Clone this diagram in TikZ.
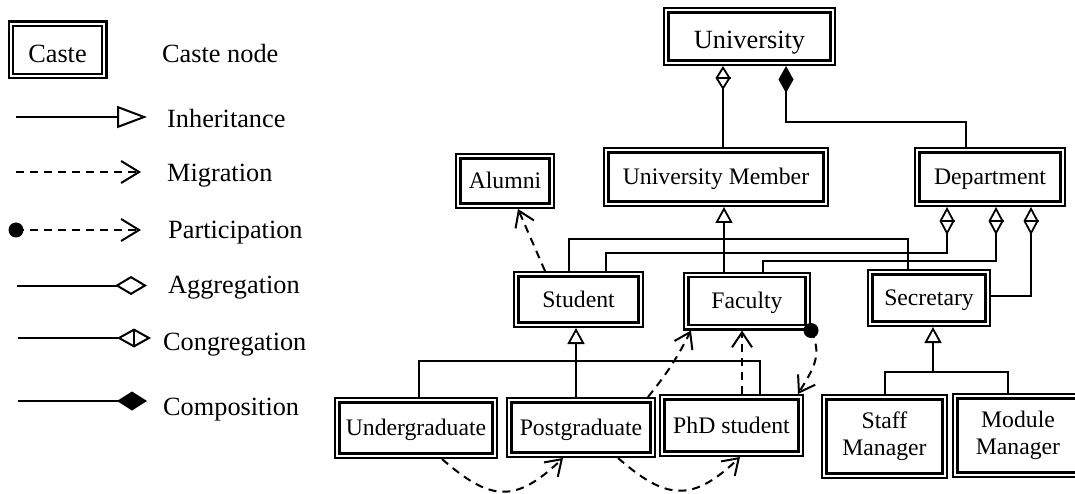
\documentclass[tikz,border=0pt]{standalone}
\usepackage{fontspec}
\setmainfont{Liberation Serif}
\usetikzlibrary{arrows.meta}
\begin{document}
\begin{tikzpicture}[x=1pt,y=-1pt,
  caste/.style={draw, line width=2.4pt, double, double distance=2pt, inner sep=0pt, outer sep=3.4pt,
    font=\fontsize{23.7}{27}\selectfont, align=center},
  capc/.style={text height=15.7pt, text depth=0pt},
  bigc/.style={font=\fontsize{26.3}{30}\selectfont, text height=24.4pt, text depth=0pt},
  legtext/.style={anchor=base west, inner sep=0pt, font=\fontsize{26.3}{30}\selectfont},
  conn/.style={line width=2pt},
  thickconn/.style={line width=2.8pt},
  cbar/.style={line width=1.6pt},
  dashln/.style={line width=2pt, dash pattern=on 8pt off 6pt},
  mig/.style={dashln, -{Straight Barb[length=15pt,width=20pt,line width=2pt]}},
  legmig/.style={dashln, -{Straight Barb[length=18pt,width=22pt,line width=2pt]}},
  inh/.style={-{Triangle[open,length=16pt,width=17pt,line width=1.8pt]}},
  cong/.style={-{Diamond[open,length=28pt,width=15pt,line width=1.8pt]}}
]
\useasboundingbox (0,0) rectangle (1075,494);

% ---------------- legend ----------------
\node[caste, bigc, minimum width=93.2pt, minimum height=52.2pt] (caste) at (57.5,50) {Caste};
\node[legtext] (tcaste) at (162,63) {Caste node};

\coordinate (la1) at (16,117); \coordinate (lb1) at (147,117);
\draw[conn, -{Triangle[open,length=30pt,width=22pt,line width=2pt]}] (la1) -- (lb1);
\node[legtext] (tinh) at (167,128) {Inheritance};

\coordinate (la2) at (16,172); \coordinate (lb2) at (141,172);
\draw[legmig] (la2) -- (lb2);
\node[legtext] (tmig) at (167,182) {Migration};

\coordinate (la3) at (16,230); \coordinate (lb3) at (141,230);
\fill (la3) circle (7.5pt);
\draw[legmig] (la3) -- (lb3);
\node[legtext] (tpart) at (168,239) {Participation};

\coordinate (la4) at (17,285.5); \coordinate (lb4) at (147,285.5);
\draw[conn, -{Diamond[open,length=32pt,width=19pt,line width=2pt]}] (la4) -- (lb4);
\node[legtext] (tagg) at (168,293) {Aggregation};

\coordinate (la5) at (18,338); \coordinate (lb5) at (151,338);
\draw[conn, -{Diamond[open,length=34pt,width=19pt,line width=2pt]}] (la5) -- (lb5);
\draw[cbar] ([shift={(-17pt,9pt)}]lb5) -- ([shift={(-17pt,-9pt)}]lb5);
\node[legtext] (tcong) at (163,350.5) {Congregation};

\coordinate (la6) at (18,401); \coordinate (lb6) at (147,401);
\draw[conn, -{Diamond[length=30pt,width=19pt]}] (la6) -- (lb6);
\node[legtext] (tcomp) at (163,415) {Composition};

% ---------------- nodes ----------------
\node[caste, bigc, minimum width=166.2pt, minimum height=52.2pt] (univ) at (749.5,36.5) {University};
\node[caste, capc, minimum width=219.2pt, minimum height=53.2pt] (um) at (716,177) {University Member};
\node[caste, capc, minimum width=93.2pt, minimum height=49.2pt] (alumni) at (505,181) {Alumni};
\node[caste, capc, minimum width=145.2pt, minimum height=53.2pt] (dept) at (990,177) {Department};
\node[caste, capc, minimum width=124.2pt, minimum height=50.2pt] (student) at (578.5,299.5) {Student};
\node[caste, capc, minimum width=121.2pt, minimum height=52.2pt] (faculty) at (747,301) {Faculty};
\node[caste, capc, minimum width=117.2pt, minimum height=51.2pt] (secr) at (929,298) {Secretary};
\node[caste, capc, minimum width=157.2pt, minimum height=55.2pt] (ug) at (416,428) {Undergraduate};
\node[caste, capc, minimum width=143.2pt, minimum height=54.2pt] (pg) at (581,427.5) {Postgraduate};
\node[caste, capc, minimum width=138.2pt, minimum height=56.2pt] (phd) at (731.5,425.5) {PhD student};
\node[caste, minimum width=120.2pt, minimum height=78.2pt] (staff) at (884.5,436.5) {Staff\\Manager};
\node[caste, minimum width=125.2pt, minimum height=78.2pt] (module) at (1018,435.5) {Module\\Manager};

% ---------------- connectors ----------------
% University Member -> University (congregation)
\coordinate (um0) at ([xshift=7pt]um.north);
\coordinate (u1) at (um0 |- univ.south);
\draw[conn, -{Diamond[open,length=24pt,width=15pt,line width=1.8pt]}] (um0) -- (u1);
\draw[cbar] ([shift={(-7.5pt,-12pt)}]u1) -- ([shift={(7.5pt,-12pt)}]u1);

% Department -> University (composition)
\coordinate (d0) at ([xshift=-24pt]dept.north);
\coordinate (u2) at ([xshift=36.5pt]univ.south);
\draw[conn, -{Diamond[length=27pt,width=15pt]}] (d0) -- ++(0,25pt) -| (u2);

% Faculty -> University Member (inheritance)
\coordinate (f0) at ([xshift=-23pt]faculty.north);
\draw[thickconn, inh] (f0) -- (f0 |- um.south);

% Student / Secretary bus to inheritance line
\coordinate (s1) at ([xshift=-9.5pt]student.north);
\coordinate (sc1) at ([xshift=-21pt]secr.north);
\draw[conn] (s1) |- ([yshift=30pt]sc1) -- (sc1);

% Student -> Department (congregation)
\coordinate (s2) at ([xshift=27.5pt]student.north);
\coordinate (dp1) at ([xshift=-43pt]dept.south);
\draw[conn, cong] (s2) |- ([yshift=-46pt]dp1) -- (dp1);
\draw[cbar] ([shift={(-7.5pt,-14pt)}]dp1) -- ([shift={(7.5pt,-14pt)}]dp1);

% Faculty -> Department (congregation)
\coordinate (f1) at ([xshift=16pt]faculty.north);
\coordinate (dp2) at ([xshift=6pt]dept.south);
\draw[conn, cong] (f1) |- ([yshift=-54pt]dp2) -- (dp2);
\draw[cbar] ([shift={(-7.5pt,-14pt)}]dp2) -- ([shift={(7.5pt,-14pt)}]dp2);

% Secretary -> Department (congregation)
\coordinate (sc2) at ([yshift=2pt]secr.east);
\coordinate (dp3) at ([xshift=41pt]dept.south);
\draw[conn, cong] (sc2) -| (dp3);
\draw[cbar] ([shift={(-7.5pt,-14pt)}]dp3) -- ([shift={(7.5pt,-14pt)}]dp3);

% Postgraduate -> Student (inheritance) with bus
\coordinate (p0) at ([xshift=-5pt]pg.north);
\draw[line width=2.5pt, inh] (p0) -- (p0 |- student.south);
\coordinate (ug0) at ([xshift=3pt]ug.north);
\coordinate (ph0) at ([xshift=28.5pt]phd.north);
\draw[conn] (ug0) |- ([yshift=33pt]ph0) -- (ph0);

% Staff / Module Manager -> Secretary (inheritance)
\coordinate (sb) at ([xshift=4pt,yshift=-45pt]secr.south);
\draw[conn, inh] (sb) -- ([xshift=4pt]secr.south);
\coordinate (st0) at ([xshift=0.5pt]staff.north);
\coordinate (mo0) at ([xshift=-10pt]module.north);
\draw[conn] (st0) |- (sb) -| (mo0);

% Migrations
\draw[mig] ([xshift=-33.5pt]student.north) -- ([xshift=13pt]alumni.south);
\draw[mig] ([xshift=-8pt]pg.north east) to[bend right=6] ([xshift=8pt]faculty.south west);
\coordinate (ph1) at ([xshift=10.5pt]phd.north);
\draw[mig] (ph1) -- (ph1 |- faculty.south);
\draw[mig] ([xshift=26pt]ug.south) .. controls +(48pt,-42pt) and +(-48pt,-46pt) .. ([xshift=-18pt]pg.south);
\draw[mig] ([xshift=37pt]pg.south) .. controls +(48pt,-42pt) and +(-48pt,-46pt) .. ([xshift=8.5pt]phd.south);

% Participation Faculty -> PhD student
\fill (faculty.south east) circle (7.5pt);
\draw[mig] (faculty.south east) .. controls +(12pt,-25pt) and +(15pt,25pt) .. ([xshift=-6pt]phd.north east);
\end{tikzpicture}
\end{document}
